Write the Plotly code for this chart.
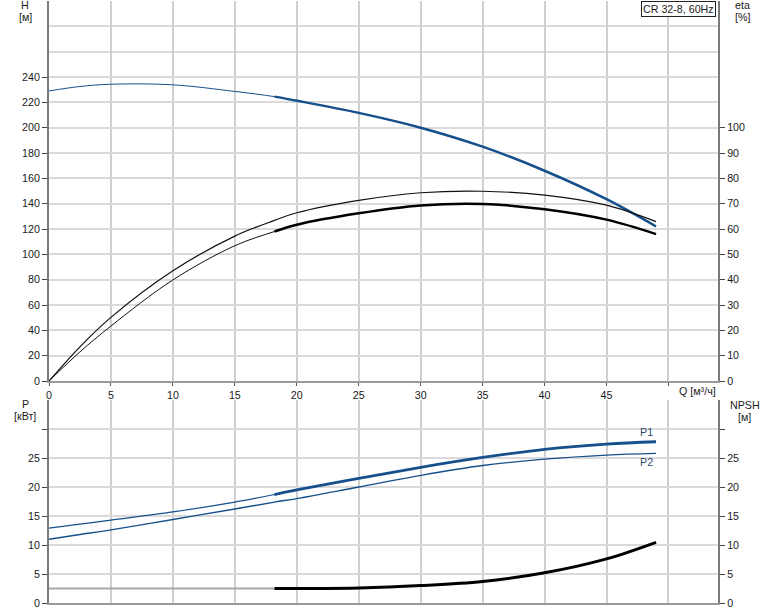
import plotly.graph_objects as go

# ---------------- data ----------------
q = [0, 2.5, 5, 10, 15, 18.2, 20, 25, 30, 35, 40, 45, 49]
head = [229, 232.5, 234.3, 233.8, 228.6, 224.5, 221.3, 211.7, 200, 185, 166, 143.5, 122]
eta_pump = [0, 13.5, 25.1, 43.5, 57.2, 63.4, 66.4, 71.3, 74.3, 74.9, 73.4, 69.4, 62.9]
eta_total = [0, 11.5, 21.7, 39.9, 53.4, 59.0, 61.7, 66.2, 69.3, 69.9, 67.8, 63.7, 58.0]
p1 = [12.9, 13.6, 14.3, 15.7, 17.4, 18.7, 19.5, 21.5, 23.4, 25.1, 26.5, 27.4, 27.8]
p2 = [11.0, 11.8, 12.6, 14.4, 16.2, 17.4, 18.0, 20.0, 22.0, 23.7, 24.8, 25.5, 25.8]
q_npsh = [18.2, 25, 30, 35, 40, 45, 49]
npsh = [2.5, 2.6, 3.0, 3.7, 5.2, 7.6, 10.45]
q_npsh_low = [0, 18.2]
npsh_low = [2.5, 2.5]
duty_start = 5  # index of Q = 18.2 where the operating range begins

h_ticks = [0, 20, 40, 60, 80, 100, 120, 140, 160, 180, 200, 220, 240]
h_extra_grid = [260, 280, 300]
eta_ticks = [0, 10, 20, 30, 40, 50, 60, 70, 80, 90, 100]
q_ticks = [0, 5, 10, 15, 20, 25, 30, 35, 40, 45, 50]
q_ticktext = ["0", "5", "10", "15", "20", "25", "30", "35", "40", "45", ""]
p_ticks = [0, 5, 10, 15, 20, 25, 30]
p_ticktext = ["0", "5", "10", "15", "20", "25", ""]

# ---------------- layout geometry ----------------
W, H = 774, 611
ML, MR, MT, MB = 49, 56, 1, 8
PW, PH = W - ML - MR, H - MT - MB


def px(x):
    return (x - ML) / PW


def py(y):
    return (H - MB - y) / PH


BLUE = "#16508c"
FONT = "Liberation Sans, Arial, sans-serif"
FS = 10.7
TXT = "#1a1a1a"

fig = go.Figure()

# ---- top plot: head (left) and efficiency (right)
fig.add_trace(go.Scatter(x=q, y=head, mode="lines", line=dict(color=BLUE, width=1, shape="spline"),
                         xaxis="x", yaxis="y", hoverinfo="skip"))
fig.add_trace(go.Scatter(x=q[duty_start:], y=head[duty_start:], mode="lines",
                         line=dict(color=BLUE, width=2.5, shape="spline"), xaxis="x", yaxis="y"))
fig.add_trace(go.Scatter(x=q, y=eta_pump, mode="lines", line=dict(color="#111", width=1.2, shape="spline"),
                         xaxis="x", yaxis="y2"))
fig.add_trace(go.Scatter(x=q, y=eta_total, mode="lines", line=dict(color="#111", width=1, shape="spline"),
                         xaxis="x", yaxis="y2"))
fig.add_trace(go.Scatter(x=q[duty_start:], y=eta_total[duty_start:], mode="lines",
                         line=dict(color="#000", width=2.5, shape="spline"), xaxis="x", yaxis="y2"))

# ---- bottom plot: power (left) and NPSH (right)
fig.add_trace(go.Scatter(x=q, y=p1, mode="lines", line=dict(color=BLUE, width=1.2, shape="spline"),
                         xaxis="x2", yaxis="y3"))
fig.add_trace(go.Scatter(x=q[duty_start:], y=p1[duty_start:], mode="lines",
                         line=dict(color=BLUE, width=2.8, shape="spline"), xaxis="x2", yaxis="y3"))
fig.add_trace(go.Scatter(x=q, y=p2, mode="lines", line=dict(color=BLUE, width=1.4, shape="spline"),
                         xaxis="x2", yaxis="y3"))
fig.add_trace(go.Scatter(x=q_npsh_low, y=npsh_low, mode="lines", line=dict(color="#a8a8a8", width=2),
                         xaxis="x2", yaxis="y4"))
fig.add_trace(go.Scatter(x=q_npsh, y=npsh, mode="lines", line=dict(color="#000", width=3, shape="spline"),
                         xaxis="x2", yaxis="y4"))

TOP_DOM = [py(381), 1.0]
BOT_DOM = [0.0, py(400)]

common_x = dict(range=[0, 54], tickvals=q_ticks, showgrid=True, gridcolor="#cfcfcf", gridwidth=1.5,
                zeroline=False, showline=True, linecolor="#9a9a9a", linewidth=2,
                ticks="outside", ticklen=3, tickcolor="#555",
                tickfont=dict(family=FONT, size=FS, color=TXT))

fig.update_layout(
    width=W, height=H,
    margin=dict(l=ML, r=MR, t=MT, b=MB),
    paper_bgcolor="white", plot_bgcolor="white",
    showlegend=False,
    font=dict(family=FONT, size=FS, color=TXT),
    xaxis=dict(common_x, domain=[0, 1], anchor="y", ticktext=q_ticktext, showticklabels=True),
    xaxis2=dict(common_x, domain=[0, 1], anchor="y3", ticktext=q_ticktext, showticklabels=False,
                ticks=""),
    yaxis=dict(domain=TOP_DOM, range=[0, 300], tickvals=h_ticks, showgrid=True,
               gridcolor="#dadada", gridwidth=2, zeroline=False, showline=True,
               linecolor="#7a7a7a", linewidth=2, ticks="outside", ticklen=5, tickcolor="#444",
               tickfont=dict(family=FONT, size=FS, color=TXT), anchor="x",
               minor=dict(tickvals=h_extra_grid, showgrid=True, gridcolor="#dadada",
                          gridwidth=2, ticks="", ticklen=0)),
    yaxis2=dict(range=[0, 150], tickvals=eta_ticks, overlaying="y", side="right", anchor="x",
                showgrid=False, zeroline=False, showline=True, linecolor="#7a7a7a", linewidth=2,
                ticks="outside", ticklen=5, tickcolor="#444",
                tickfont=dict(family=FONT, size=FS, color=TXT)),
    yaxis3=dict(domain=BOT_DOM, range=[0, 35], tickvals=p_ticks, ticktext=p_ticktext,
                showgrid=True, gridcolor="#dadada", gridwidth=2, zeroline=False, showline=True,
                linecolor="#7a7a7a", linewidth=2, ticks="outside", ticklen=5, tickcolor="#444",
                tickfont=dict(family=FONT, size=FS, color=TXT), anchor="x2",
                minor=dict(tickvals=[35], showgrid=True, gridcolor="#b0b0b0", gridwidth=2,
                           ticks="", ticklen=0)),
    yaxis4=dict(range=[0, 35], tickvals=p_ticks, ticktext=p_ticktext, overlaying="y3",
                side="right", anchor="x2", showgrid=False, zeroline=False, showline=True,
                linecolor="#7a7a7a", linewidth=2, ticks="outside", ticklen=5, tickcolor="#444",
                tickfont=dict(family=FONT, size=FS, color=TXT)),
)


def label(text, xpix, ypix, xanchor="center", **kw):
    fig.add_annotation(text=text, xref="paper", yref="paper", x=px(xpix), y=py(ypix),
                       xanchor=xanchor, yanchor="middle", showarrow=False,
                       font=dict(family=FONT, size=FS, color=kw.pop("color", TXT)), **kw)


label("H", 25, 5)
label("[м]", 25, 17)
label("eta", 742, 5)
label("[%]", 742, 17)
label("P", 25, 404)
label("[кВт]", 25, 416)
label("NPSH", 745, 405)
label("[м]", 745, 417)
label("Q [м³/ч]", 677, 391, xanchor="left")

fig.add_annotation(text="CR 32-8, 60Hz", xref="paper", yref="paper", x=px(716), y=1.0,
                   xanchor="right", yanchor="top", showarrow=False, bgcolor="white",
                   bordercolor="#222", borderwidth=1, borderpad=1,
                   font=dict(family=FONT, size=FS, color=TXT))

fig.add_annotation(text="P1", xref="x2", yref="y3", x=q[-1] - 0.8, y=p1[-1] + 0.3,
                   xanchor="center", yanchor="bottom", showarrow=False,
                   font=dict(family=FONT, size=FS, color="#2a4a70"))
fig.add_annotation(text="P2", xref="x2", yref="y3", x=q[-1] - 0.8, y=p2[-1] - 0.15,
                   xanchor="center", yanchor="top", showarrow=False,
                   font=dict(family=FONT, size=FS, color="#2a4a70"))

fig.write_html("out.html", config={"displayModeBar": False},
               post_script="document.body.style.margin='0';document.body.style.overflow='hidden';")
